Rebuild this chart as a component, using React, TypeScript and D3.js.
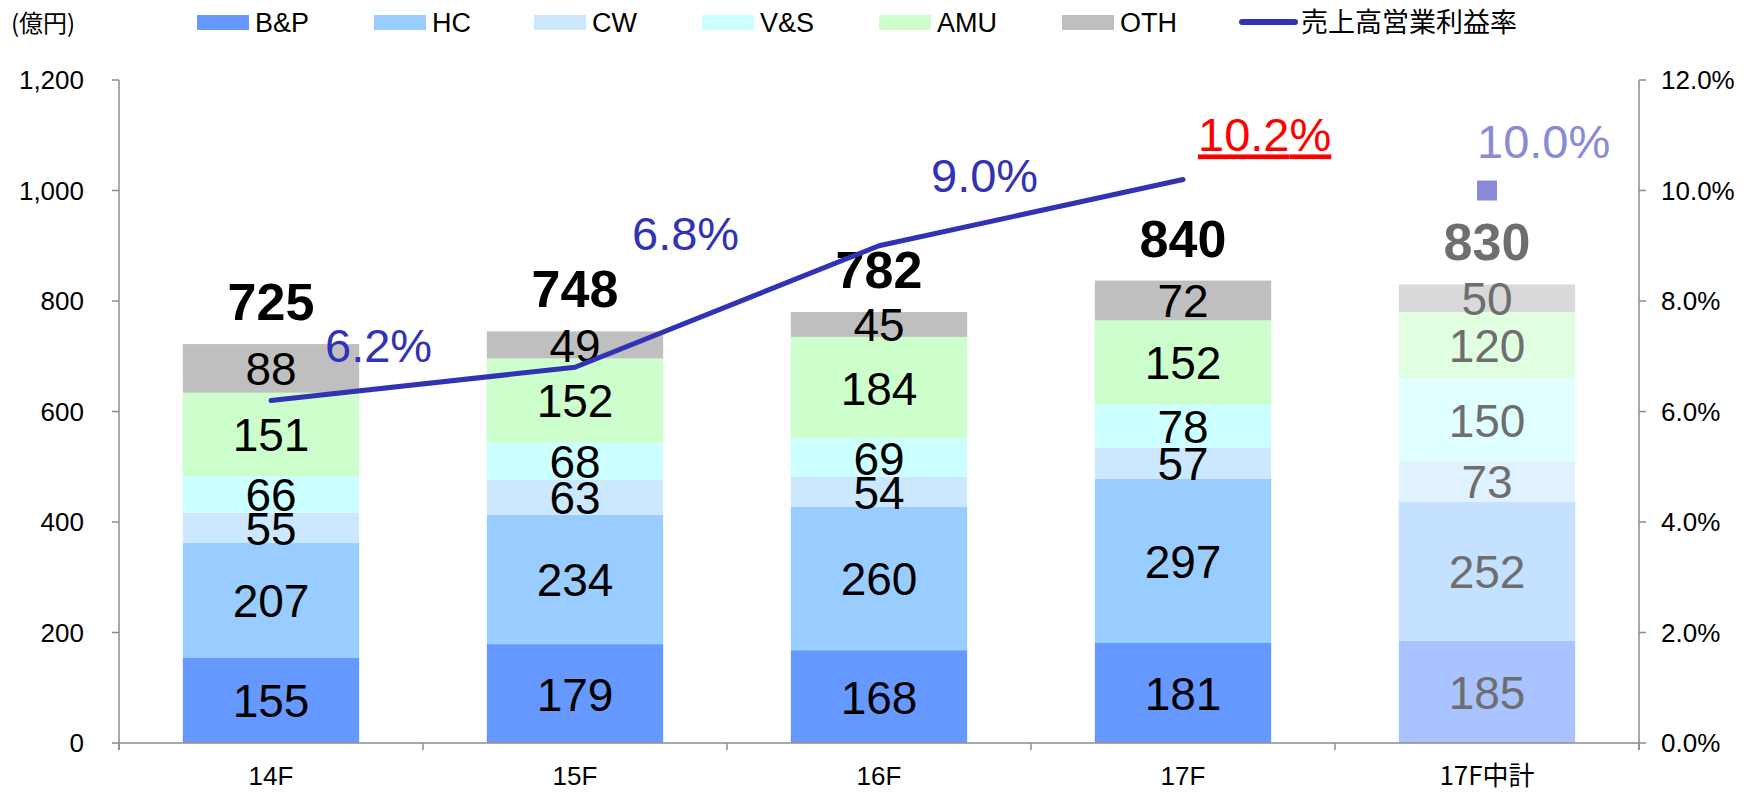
import React from 'react';
import * as d3 from 'd3';

const categories = ['14F', '15F', '16F', '17F', '17F中計'];
const seriesNames = ['B&P', 'HC', 'CW', 'V&S', 'AMU', 'OTH'];
const bpValues = [155, 179, 168, 181, 185];
const hcValues = [207, 234, 260, 297, 252];
const cwValues = [55, 63, 54, 57, 73];
const vsValues = [66, 68, 69, 78, 150];
const amuValues = [151, 152, 184, 152, 120];
const othValues = [88, 49, 45, 72, 50];
const totals = [725, 748, 782, 840, 830];
const marginRates = [6.2, 6.8, 9.0, 10.2];
const planRate = 10.0;
const leftTicks = [0, 200, 400, 600, 800, 1000, 1200];
const rightTicks = [0, 2, 4, 6, 8, 10, 12];

const W = 1746;
const H = 794;
const FONT = '"Liberation Sans", Arial, sans-serif';
const JP = '"Noto Sans CJK JP", "Liberation Sans", sans-serif';

const colors = ['#6699FF', '#99CCFF', '#CCE8FF', '#CCFFFF', '#CCFFCC', '#BFBFBF'];
const planColors = ['#A8C3FF', '#C4E1FF', '#E0F2FF', '#E0FFFF', '#E0FFE0', '#D9D9D9'];
const lineColor = '#3232B4';

// label offsets (px) from each line point: [dx to text start, dy to baseline]
const rateLabelOffsets = [[54, -38], [57, -117], [52, -54], [15, -28]];
const legendX = [197, 374, 534, 702, 879, 1062];

const App: React.FC = () => {
  const plotLeft = 119;
  const plotRight = 1639;
  const plotTop = 80;
  const plotBottom = 743;

  const x = d3.scaleBand<string>()
    .domain(categories)
    .range([plotLeft, plotRight])
    .paddingInner(0.42)
    .paddingOuter(0.21);
  const y = d3.scaleLinear().domain([0, 1200]).range([plotBottom, plotTop]);
  const yR = d3.scaleLinear().domain([0, 12]).range([plotBottom, plotTop]);

  const rows = categories.map((c, i) => ({
    cat: c,
    'B&P': bpValues[i],
    HC: hcValues[i],
    CW: cwValues[i],
    'V&S': vsValues[i],
    AMU: amuValues[i],
    OTH: othValues[i],
  }));
  const stacked = d3.stack<any>().keys(seriesNames)(rows);

  const linePts = marginRates.map((r, i) => [x(categories[i])! + x.bandwidth() / 2, yR(r)] as [number, number]);
  const linePath = d3.line()(linePts) || '';

  const step = x.step();
  const boundaries = d3.range(categories.length + 1).map(i => plotLeft + i * step);
  const planX = x(categories[4])! + x.bandwidth() / 2;

  return (
    <svg width={W} height={H} style={{ position: 'absolute', left: 0, top: 0, background: '#fff' }} fontFamily={FONT}>
      {/* unit label */}
      <text x={11} y={32} fontSize={24} fontFamily={JP}>(億円)</text>

      {/* legend */}
      {seriesNames.map((s, i) => (
        <g key={s}>
          <rect x={legendX[i]} y={15} width={52} height={15} fill={colors[i]} />
          <text x={legendX[i] + 58} y={32} fontSize={27}>{s}</text>
        </g>
      ))}
      <line x1={1242} x2={1295} y1={22} y2={22} stroke={lineColor} strokeWidth={6} strokeLinecap="round" />
      <text x={1301} y={32} fontSize={27} fontFamily={JP}>売上高営業利益率</text>

      {/* bars */}
      {stacked.map((layer, si) =>
        layer.map((d, ci) => {
          const plan = ci === categories.length - 1;
          return (
            <rect
              key={`${si}-${ci}`}
              x={x(categories[ci])}
              width={x.bandwidth()}
              y={y(d[1])}
              height={y(d[0]) - y(d[1])}
              fill={plan ? planColors[si] : colors[si]}
            />
          );
        })
      )}

      {/* segment labels */}
      {stacked.map((layer, si) =>
        layer.map((d, ci) => {
          const plan = ci === categories.length - 1;
          const val = d[1] - d[0];
          return (
            <text
              key={`l${si}-${ci}`}
              x={x(categories[ci])! + x.bandwidth() / 2}
              y={y((d[0] + d[1]) / 2) + 17}
              textAnchor="middle"
              fontSize={46}
              fill={plan ? '#6E6E6E' : '#000'}
            >
              {val}
            </text>
          );
        })
      )}

      {/* totals */}
      {totals.map((t, i) => {
        const top = stacked[stacked.length - 1][i][1];
        const plan = i === categories.length - 1;
        return (
          <text
            key={`t${i}`}
            x={x(categories[i])! + x.bandwidth() / 2}
            y={y(top) - 24}
            textAnchor="middle"
            fontSize={52}
            fontWeight="bold"
            fill={plan ? '#6E6E6E' : '#000'}
          >
            {t}
          </text>
        );
      })}

      {/* axes */}
      <g stroke="#8C8C8C" strokeWidth={1.5} fill="none">
        <line x1={plotLeft} x2={plotLeft} y1={plotTop} y2={plotBottom + 7} />
        <line x1={plotRight} x2={plotRight} y1={plotTop} y2={plotBottom + 7} />
        <line x1={plotLeft} x2={plotRight} y1={plotBottom} y2={plotBottom} />
        {leftTicks.map(t => (
          <line key={`lt${t}`} x1={plotLeft - 7} x2={plotLeft} y1={y(t)} y2={y(t)} />
        ))}
        {rightTicks.map(t => (
          <line key={`rt${t}`} x1={plotRight} x2={plotRight + 7} y1={yR(t)} y2={yR(t)} />
        ))}
        {boundaries.map((b, i) => (
          <line key={`b${i}`} x1={b} x2={b} y1={plotBottom} y2={plotBottom + 7} />
        ))}
      </g>
      {leftTicks.map(t => (
        <text key={`ltl${t}`} x={84} y={y(t) + 9} textAnchor="end" fontSize={26}>
          {d3.format(',')(t)}
        </text>
      ))}
      {rightTicks.map(t => (
        <text key={`rtl${t}`} x={1661} y={yR(t) + 9} fontSize={26}>
          {t.toFixed(1)}%
        </text>
      ))}
      {categories.map(c => (
        <text key={`x${c}`} x={x(c)! + x.bandwidth() / 2} y={785} textAnchor="middle" fontSize={26}
          fontFamily={c.includes('中') ? JP : FONT}>
          {c}
        </text>
      ))}

      {/* margin line */}
      <path d={linePath} fill="none" stroke={lineColor} strokeWidth={5} strokeLinejoin="round" strokeLinecap="round" />
      {marginRates.map((r, i) => {
        const last = i === marginRates.length - 1;
        return (
          <text
            key={`r${i}`}
            x={linePts[i][0] + rateLabelOffsets[i][0]}
            y={linePts[i][1] + rateLabelOffsets[i][1]}
            fontSize={47}
            fill={last ? '#FF0000' : lineColor}
            textDecoration={last ? 'underline' : undefined}
          >
            {r.toFixed(1)}%
          </text>
        );
      })}

      {/* plan marker */}
      <rect x={planX - 10} y={yR(planRate) - 10} width={20} height={20} fill="#8A8AD8" />
      <text x={planX - 10} y={yR(planRate) - 33} fontSize={47} fill="#8A8AD8">
        {planRate.toFixed(1)}%
      </text>
    </svg>
  );
};

export default App;
